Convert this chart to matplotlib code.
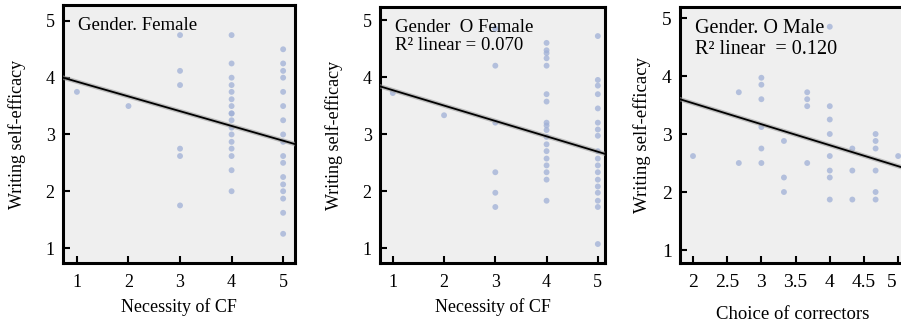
import numpy as np
import matplotlib
matplotlib.use("Agg")
import matplotlib.pyplot as plt
import matplotlib.transforms as mtransforms

plt.rcParams['font.family'] = ['Liberation Serif', 'DejaVu Serif']

# panel 1: Gender = Female, necessity of CF
p1_x = [1, 2] + [3] * 6 + [4] * 17 + [5] * 17
p1_y = [3.75, 3.5,
        4.75, 4.12, 3.87, 2.75, 2.62, 1.75,
        4.75, 4.25, 4.0, 3.87, 3.75, 3.62, 3.5, 3.37, 3.37, 3.25, 3.12, 3.0,
        2.87, 2.75, 2.62, 2.37, 2.0,
        4.5, 4.25, 4.12, 4.0, 3.75, 3.5, 3.25, 3.0, 2.87, 2.62, 2.5, 2.25,
        2.12, 2.0, 1.87, 1.62, 1.25]
p1_fit = (4.19, -0.26)

# panel 2: Gender O Female, necessity of CF
p2_x = [1, 2] + [3] * 6 + [4] * 18 + [5] * 18
p2_y = [3.72, 3.33,
        4.85, 4.2, 3.2, 2.33, 1.97, 1.72,
        4.6, 4.47, 4.42, 4.33, 4.2, 3.7, 3.57, 3.2, 3.15, 3.07, 2.95, 2.82,
        2.7, 2.57, 2.45, 2.33, 2.2, 1.83,
        4.72, 3.95, 3.85, 3.7, 3.45, 3.2, 3.08, 2.97, 2.7, 2.57, 2.45, 2.33,
        2.2, 2.08, 1.97, 1.83, 1.72, 1.07]
p2_fit = (4.04, -0.27)

# panel 3: Gender O Male, choice of correctors
p3_x = ([2] + [2.67] * 2 + [3] * 6 + [3.33] * 3 + [3.67] * 4 + [4] * 8
        + [4.33] * 3 + [4.67] * 6 + [5])
p3_y = [2.62,
        3.72, 2.5,
        3.97, 3.85, 3.6, 3.12, 2.75, 2.5,
        2.88, 2.25, 2.0,
        3.72, 3.6, 3.48, 2.5,
        4.85, 3.48, 3.25, 3.0, 2.62, 2.37, 2.25, 1.87,
        2.75, 2.37, 1.87,
        3.0, 2.88, 2.75, 2.37, 2.0, 1.87,
        2.62]
p3_fit = (4.255, -0.362)

W, H = 901, 328
fig = plt.figure(figsize=(W / 100, H / 100), dpi=100)

def box(l, r, t, b):
    return [l / W, (H - b) / H, (r - l) / W, (b - t) / H]

panels = [
    dict(x=p1_x, y=p1_y, fit=p1_fit, rect=box(63, 295, 5, 263),
         xlim=(0.73, 5.23), ylim=(0.736, 5.28), xticks=[1, 2, 3, 4, 5],
         xlabel="Necessity of CF", text="Gender. Female",
         tick_fs=13, lab_fs=13, txt_fs=13.5, ypad=14, xpad=5),
    dict(x=p2_x, y=p2_y, fit=p2_fit, rect=box(380, 605, 7, 263),
         xlim=(0.75, 5.14), ylim=(0.737, 5.23), xticks=[1, 2, 3, 4, 5],
         xlabel="Necessity of CF", text="Gender  O Female\nR\u00b2 linear = 0.070",
         tick_fs=13, lab_fs=13, txt_fs=13.5, ypad=14, xpad=5),
    dict(x=p3_x, y=p3_y, fit=p3_fit, rect=box(680, 905, 7, 263),
         xlim=(1.81, 5.10), ylim=(0.776, 5.19),
         xticks=[2, 2.5, 3, 3.5, 4, 4.5, 5],
         xlabel="Choice of correctors", text="Gender. O Male\nR\u00b2 linear  = 0.120",
         tick_fs=14, lab_fs=13.5, txt_fs=14.5, ypad=8, xpad=11),
]

for p in panels:
    ax = fig.add_axes(p["rect"])
    ax.set_facecolor("#efefef")
    ax.scatter(p["x"], p["y"], s=18, color="#9fb0d6", alpha=0.75,
               edgecolors="none", zorder=3)
    xs = np.array(p["xlim"])
    a, b = p["fit"]
    ax.plot(xs, a + b * xs, color="#9a9a9a", lw=3.2, alpha=0.6, zorder=4)
    ax.plot(xs, a + b * xs, color="black", lw=1.3, zorder=5)
    ax.set_xlim(*p["xlim"])
    ax.set_ylim(*p["ylim"])
    ax.set_xticks(p["xticks"])
    ax.set_xticklabels([f"{t:g}" for t in p["xticks"]])
    ax.set_yticks([1, 2, 3, 4, 5])
    ax.tick_params(direction="in", length=5, width=1.5,
                   labelsize=p["tick_fs"])
    ax.tick_params(axis="x", pad=8)
    ax.tick_params(axis="y", pad=6)
    for s in ax.spines.values():
        s.set_linewidth(2.2)
    ax.set_xlabel(p["xlabel"], fontsize=p["lab_fs"], labelpad=p["xpad"])
    ax.set_ylabel("Writing self-efficacy", fontsize=p["lab_fs"],
                  labelpad=p["ypad"])
    ax.text(0.065, 0.955, p["text"], transform=ax.transAxes, va="top",
            ha="left", fontsize=p["txt_fs"], linespacing=1.15, zorder=6)

# last tick label of the right panel sits at the figure edge, nudge it inwards
last = ax.get_xticklabels()[-1]
last.set_transform(last.get_transform()
                   + mtransforms.ScaledTranslation(-6 / 100, 0, fig.dpi_scale_trans))

fig.savefig("out.png", dpi=100)
